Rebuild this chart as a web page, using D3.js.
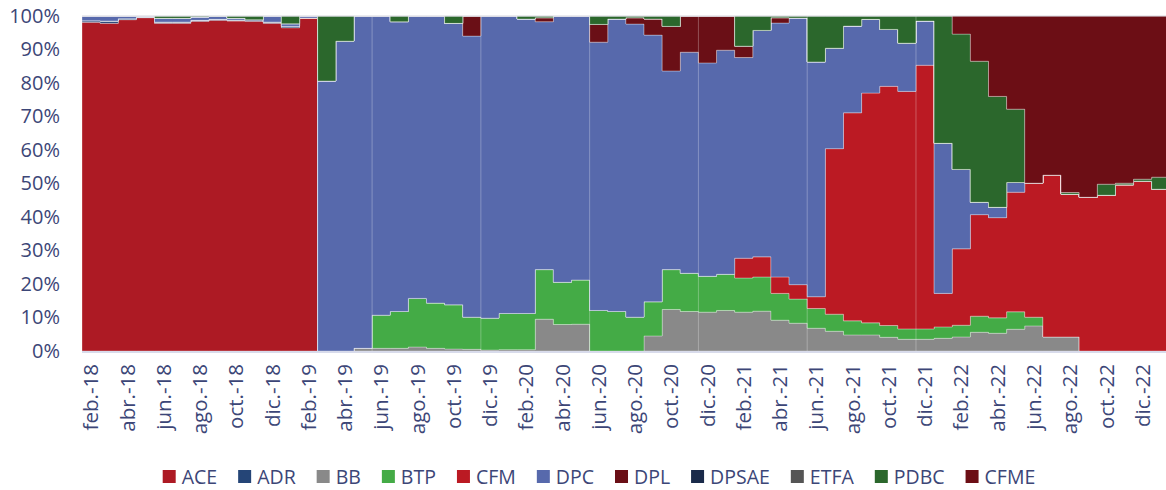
<!DOCTYPE html>
<html><head><meta charset="utf-8">
<script src="https://cdn.jsdelivr.net/npm/d3@7"></script>
<style>
html,body{margin:0;padding:0;background:#fff;}
svg{display:block;font-family:"Open Sans",sans-serif;}
</style></head>
<body>
<svg id="chart" width="1166" height="490"></svg>
<script>
const months = [
 "feb.-18","mar.-18","abr.-18","may.-18","jun.-18","jul.-18","ago.-18","sep.-18","oct.-18","nov.-18","dic.-18","ene.-19",
 "feb.-19","mar.-19","abr.-19","may.-19","jun.-19","jul.-19","ago.-19","sep.-19","oct.-19","nov.-19","dic.-19","ene.-20",
 "feb.-20","mar.-20","abr.-20","may.-20","jun.-20","jul.-20","ago.-20","sep.-20","oct.-20","nov.-20","dic.-20","ene.-21",
 "feb.-21","mar.-21","abr.-21","may.-21","jun.-21","jul.-21","ago.-21","sep.-21","oct.-21","nov.-21","dic.-21","ene.-22",
 "feb.-22","mar.-22","abr.-22","may.-22","jun.-22","jul.-22","ago.-22","sep.-22","oct.-22","nov.-22","dic.-22","ene.-23"
];
const tickLabels = months.filter((m,i)=>i%2===0);
const yTicks = [0,10,20,30,40,50,60,70,80,90,100];

const ACE = [98.1,97.8,98.9,99.5,97.8,97.8,98.4,98.7,98.5,98.4,97.8,96.5,
 99.4,0,0,0,0,0,0,0,0,0,0,0,
 0,0,0,0,0,0,0,0,0,0,0,0,
 0,0,0,0,0,0,0,0,0,0,0,0,
 0,0,0,0,0,0,0,0,0,0,0,0];
const ADR = [0.5,0.7,0.3,0.2,0.4,0.4,0.3,0.3,0.3,0.5,0.4,0.4,
 0,0,0,0,0,0,0,0,0,0,0,0,
 0,0,0,0,0,0,0,0,0,0,0,0,
 0,0,0,0,0,0,0,0,0,0,0,0,
 0,0,0,0,0,0,0,0,0,0,0,0];
const BB = [0,0,0,0,0,0,0,0,0,0,0,0,
 0,0,0,0.8,0.8,0.8,1.2,0.8,0.6,0.5,0.3,0.4,
 0.4,9.5,7.9,8.0,0,0,0,4.5,12.4,11.8,11.6,12.1,
 11.6,11.9,9.2,8.3,6.8,5.9,4.8,4.8,4.1,3.5,3.5,3.8,
 4.2,5.6,5.3,6.5,7.5,4.2,4.2,0,0,0,0,0];
const BTP = [0,0,0,0,0,0,0,0,0,0,0,0,
 0,0,0,0,9.9,11.0,14.5,13.5,13.2,9.6,9.5,10.8,
 10.8,14.8,12.6,13.2,12.1,11.8,10.1,10.2,11.9,11.4,10.7,10.8,
 10.2,10.2,8.0,7.2,5.9,5.1,4.2,3.6,3.5,3.1,3.1,3.4,
 3.5,4.8,4.6,5.2,2.6,0,0,0,0,0,0,0];
const CFM = [0,0,0,0,0,0,0,0,0,0,0,0,
 0,0,0,0,0,0,0,0,0,0,0,0,
 0,0,0,0,0,0,0,0,0,0,0,0,
 5.9,6.0,4.9,4.3,3.5,49.4,62.1,68.6,71.4,70.9,78.7,10.0,
 22.8,30.3,29.9,35.7,40.0,48.3,42.6,45.9,46.5,49.6,50.7,48.3];
const DPC = [1.4,1.5,0.8,0.3,1.1,1.1,1.0,0.9,0.5,0,1.8,0.8,
 0.6,80.6,92.5,99.2,89.3,86.5,84.3,85.7,84.0,83.9,90.2,88.8,
 87.9,74.0,79.5,78.8,80.1,87.3,87.5,79.6,59.3,66.0,63.7,66.9,
 59.9,67.6,75.8,79.6,70.1,30.0,25.9,22.0,17.0,14.4,13.2,44.8,
 23.7,3.7,3.1,2.9,0,0,0,0,0,0,0,0];
const DPL = [0,0,0,0,0,0,0,0,0,0,0,0,
 0,0,0,0,0,0,0,0,0,6.0,0,0,
 0,1.2,0,0,5.3,0,1.9,4.8,13.3,10.8,14.0,10.2,
 3.4,0,1.6,0,0,0,0,0,0,0,0,0,
 0,0,0,0,0,0,0,0,0,0,0,0];
const DPSAE = [0,0,0,0,0,0,0,0,0,0,0,0,
 0,0,0,0,0,0,0,0,0,0,0,0,
 0,0,0,0,0,0,0,0,0,0,0,0,
 0,0,0,0,0,0,0,0,0,0,0,0,
 0,0,0,0,0,0,0,0,0,0,0,0];
const ETFA = [0,0,0,0,0,0,0,0,0,0,0,0,
 0,0,0,0,0,0,0,0,0,0,0,0,
 0,0,0,0,0,0,0,0,0,0,0,0,
 0,0,0,0,0,0,0,0,0,0,0,0,
 0,0,0,0,0,0,0,0,0,0,0,0];
const PDBC = [0,0,0,0,0.7,0.7,0.3,0.1,0.7,1.1,0,2.3,
 0,19.4,7.5,0,0,1.7,0,0,2.2,0,0,0,
 0.9,0.5,0,0,2.5,0.9,0.5,0.9,3.1,0,0,0,
 9.0,4.3,0.5,0.6,13.7,9.6,3.0,1.0,4.0,8.1,1.5,38.0,
 40.4,42.1,33.1,21.9,0,0,0.5,0,3.3,0.5,0.6,3.6];
const CFME = [0,0,0,0,0,0,0,0,0,0,0,0,
 0,0,0,0,0,0,0,0,0,0,0,0,
 0,0,0,0,0,0,0,0,0,0,0,0,
 0,0,0,0,0,0,0,0,0,0,0,0,
 5.4,13.5,24.0,27.8,49.9,47.5,52.7,54.1,50.2,49.9,48.7,48.1];

const seriesNames = ["ACE","ADR","BB","BTP","CFM","DPC","DPL","DPSAE","ETFA","PDBC","CFME"];
const seriesValues = [ACE,ADR,BB,BTP,CFM,DPC,DPL,DPSAE,ETFA,PDBC,CFME];
const seriesColors = ["#AD1A24","#254577","#898989","#44AB46","#BB1A23","#5769AC","#6A0F16","#1A2A4A","#555555","#2B672C","#6C0E15"];
const seamMonths = ["jun.-19","dic.-19","jun.-20","dic.-20","jun.-21","dic.-21"];

(function(){
const svg = d3.select("#chart");
const left = 82, colW = 18.13, plotTop = 16, plotBottom = 351;
const textColor = "#3C4677";

const x = d3.scaleBand().domain(months).range([left, left + months.length*colW]).padding(0);
const xi = d3.scaleLinear().domain([0, months.length]).range(x.range());
const y = d3.scaleLinear().domain([0,1]).range([plotBottom, plotTop]);

const table = months.map((m,i)=>{
  const o = {month:m};
  seriesNames.forEach((s,j)=>o[s]=seriesValues[j][i]);
  return o;
});
const stack = d3.stack().keys(seriesNames).offset(d3.stackOffsetExpand);
const layers = stack(table);

const area = d3.area()
  .x((d,i)=>xi(i))
  .y0(d=>y(d[0]))
  .y1(d=>y(d[1]))
  .curve(d3.curveStepAfter);

svg.append("defs").append("clipPath").attr("id","clip")
  .append("rect").attr("x",left).attr("y",plotTop-1).attr("width",1166-left).attr("height",plotBottom-plotTop+2);

const g = svg.append("g").attr("clip-path","url(#clip)");
g.selectAll("path.layer").data(layers).join("path")
  .attr("class","layer")
  .attr("d", l => { const pts = l.slice(); pts.push(l[l.length-1]); return area(pts); })
  .attr("fill",(l,i)=>seriesColors[i])
  .attr("stroke","rgba(255,255,255,0.3)")
  .attr("stroke-width",1);

g.selectAll("line.seam").data(seamMonths).join("line")
  .attr("class","seam")
  .attr("x1",d=>x(d)).attr("x2",d=>x(d))
  .attr("y1",y(0)).attr("y2",y(1))
  .attr("stroke","rgba(255,255,255,0.28)").attr("stroke-width",1);

svg.append("line").attr("x1",left).attr("x2",1166).attr("y1",y(1)).attr("y2",y(1))
  .attr("stroke","#d6d6de").attr("stroke-width",1);

const yAxis = d3.axisLeft(d3.scaleLinear().domain([0,100]).range([plotBottom, plotTop]))
  .tickValues(yTicks).tickSize(0).tickPadding(0).tickFormat(d=>d+"%");
const ya = svg.append("g").attr("transform",`translate(${left-22},0)`).call(yAxis);
ya.select(".domain").remove();
ya.selectAll("text").attr("fill",textColor).style("font-size","20px").style("font-family","'Open Sans',sans-serif");

const xAxis = d3.axisBottom(x).tickValues(tickLabels).tickSize(0).tickPadding(0);
const xa = svg.append("g").attr("transform",`translate(0,${plotBottom})`).call(xAxis);
xa.select(".domain").remove();
xa.selectAll("text")
  .attr("fill",textColor).style("font-size","20.5px").style("font-family","'Open Sans',sans-serif")
  .attr("transform","rotate(-90)")
  .attr("text-anchor","end")
  .attr("x",-13).attr("y",0).attr("dy","0.35em");
svg.append("line").attr("x1",left).attr("x2",1166).attr("y1",plotBottom+1).attr("y2",plotBottom+1)
  .attr("stroke","#D8DBEB").attr("stroke-width",2);

const leg = svg.append("g").attr("class","legend");
const items = leg.selectAll("g").data(seriesNames).join("g");
items.append("rect").attr("width",13).attr("height",13).attr("y",-7)
  .attr("fill",(d,i)=>seriesColors[i]);
items.append("text").text(d=>d).attr("x",19).attr("dy","0.35em")
  .attr("fill",textColor).style("font-size","19.5px");
const widths = [];
items.each(function(){ const w = this.querySelector("text").getComputedTextLength(); widths.push(19+w); });
const gap = 21;
const total = d3.sum(widths) + gap*(widths.length-1);
let start = 599 - total/2;
items.attr("transform",(d,i)=>{ const t = `translate(${start},477)`; start += widths[i]+gap; return t; });
})();
</script>
</body></html>
